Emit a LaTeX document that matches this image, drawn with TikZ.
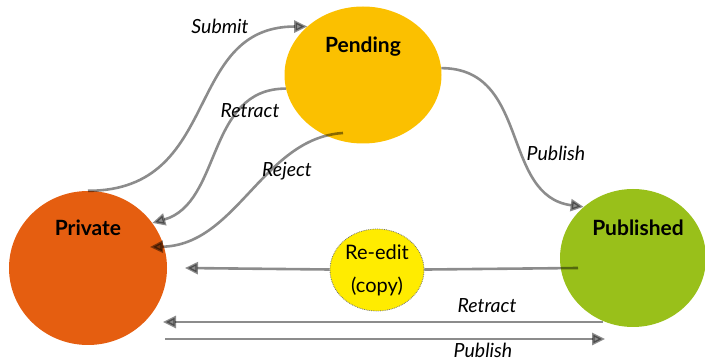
\documentclass[tikz,border=0pt]{standalone}
\usepackage{fontspec}
\setmainfont{Lato}
\usetikzlibrary{arrows.meta,shapes.geometric,positioning,calc}

\definecolor{privcol}{RGB}{229,94,16}
\definecolor{pendcol}{RGB}{251,192,0}
\definecolor{publcol}{RGB}{153,192,26}
\definecolor{copycol}{RGB}{255,236,0}

\begin{document}
\begin{tikzpicture}[x=1pt, y=-1pt,
            status/.style={ellipse, inner sep=0pt}, % the big state blobs
            stname/.style={font=\fontsize{21}{24}\selectfont\bfseries},
            lbl/.style={font=\fontsize{19.5}{22}\selectfont\itshape}, % edge labels
            conn/.style={line width=2.6pt, draw=black, opacity=0.45},
            flow/.style={conn, -{Triangle[length=13pt,width=12pt]}},
        ]
        \useasboundingbox (0,0) rectangle (705,363);

        \node[status, fill=privcol, minimum width=158pt, minimum height=154pt,
            label={[stname, yshift=40pt]center:Private}] (priv) at (88,268) {};
        \node[status, fill=pendcol, minimum width=157pt, minimum height=137pt,
            label={[stname, yshift=28pt]center:Pending}] (pend) at (363,75) {};
        \node[status, fill=publcol, minimum width=146pt, minimum height=138pt,
            label={[stname, yshift=30pt, xshift=5pt]center:Published}] (publ) at (633,258) {};
        \node[status, fill=copycol, draw=black!55, densely dotted, line width=0.8pt,
            minimum width=94pt, minimum height=82pt,
            font=\fontsize{20}{33}\selectfont, align=center] (reedit) at (377,270) {Re-edit\\(copy)};

        \coordinate (retip) at (185,268);
        \coordinate (retS) at (603,322);
        \coordinate (retE) at (163,322);
        \coordinate (pubS) at (165,339);
        \coordinate (pubE) at (605,339);

        \draw[flow] (priv.north) .. controls +(135,0) and +(-125,0) .. (pend.139);
        \draw[flow] (pend.190) .. controls +(-80,0) and +(70,-20) .. (priv.35);
        \draw[flow] ($(pend.center)+(-20,58)$) .. controls +(-80,5) and +(87,-2) .. ($(priv.center)+(62,-21)$);
        \draw[flow] (pend.5) .. controls +(89,0) and +(-83,-11) .. (publ.134);

        \draw[conn] ($(publ.center)+(-55,10)$) -- (reedit);
        \draw[flow] (reedit) -- (retip);
        \draw[flow] (retS) -- (retE);
        \draw[flow] (pubS) -- (pubE);

        \node[lbl] (lsubmit) at (220,26) {Submit};
        \node[lbl] (lretract) at (250,111) {Retract};
        \node[lbl] (lreject) at (287,171) {Reject};
        \node[lbl] (lpublish) at (556,153) {Publish};
        \node[lbl] (lretback) at (487,306) {Retract};
        \node[lbl] (lpubdir) at (483,350) {Publish};
    \end{tikzpicture}
\end{document}
